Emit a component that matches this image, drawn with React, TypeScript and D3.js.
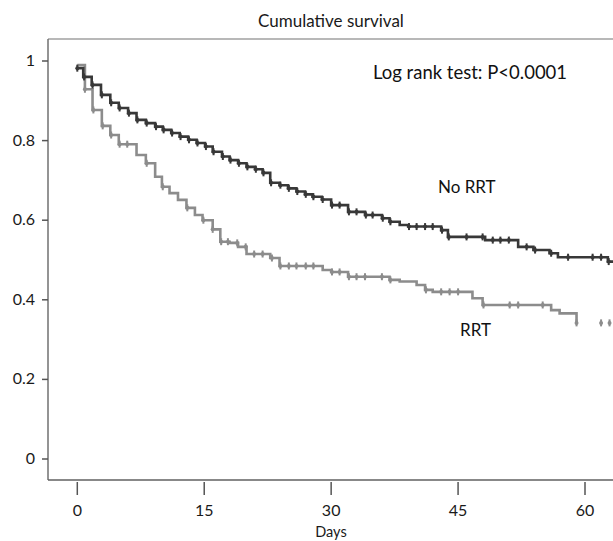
import * as d3 from "d3";
import { useEffect } from "react";

// step data: [day of drop, survival after drop]
const noRrtStart = 0.982;
const noRrtSteps: [number, number][] = [
  [0.7, 0.96], [1.7, 0.94], [2.8, 0.915], [3.9, 0.895], [4.9, 0.882], [6.0, 0.869],
  [7.0, 0.852], [8.1, 0.844], [9.2, 0.835], [10.1, 0.827], [11.1, 0.819], [12.1, 0.81],
  [13.1, 0.802], [14.1, 0.794], [15.1, 0.785], [16.0, 0.772], [17.1, 0.76], [18.0, 0.751],
  [19.0, 0.743], [20.0, 0.734], [21.0, 0.728], [21.9, 0.719], [22.8, 0.694], [23.9, 0.688],
  [24.9, 0.68], [25.9, 0.672], [26.9, 0.665], [27.8, 0.659], [28.9, 0.652], [30.0, 0.638],
  [32.0, 0.621], [34.0, 0.613], [36.0, 0.605], [36.9, 0.596], [38.1, 0.588], [39.1, 0.584],
  [43.0, 0.575], [43.8, 0.558], [48.2, 0.55], [52.1, 0.533], [53.9, 0.525], [55.8, 0.517],
  [56.8, 0.507], [62.7, 0.496],
];
const noRrtCensored = [
  0, 0.8, 1.8, 2.9, 4.0, 5.0, 6.1, 7.1, 8.2, 9.3, 10.2, 11.2, 12.2, 13.2, 14.2, 15.2,
  16.1, 17.2, 18.1, 19.1, 20.1, 21.1, 22.0, 22.9, 24.0, 25.0, 26.0, 27.0, 27.9, 29.0,
  30.1, 31.0, 32.1, 33.0, 34.1, 34.9, 36.1, 37.0, 39.2, 40.1, 41.1, 42.0, 43.1, 43.9,
  46.0, 47.9, 49.1, 50.0, 51.0, 53.1, 54.1, 56.0, 58.0, 60.9, 61.9, 62.8,
];
const noRrtEnd = 63.4;

const rrtStart = 0.99;
const rrtSteps: [number, number][] = [
  [0.9, 0.929], [1.8, 0.877], [2.9, 0.837], [3.9, 0.814], [4.9, 0.791], [7.0, 0.764],
  [8.1, 0.743], [9.2, 0.709], [10.0, 0.684], [10.9, 0.668], [11.9, 0.651], [12.9, 0.631],
  [13.9, 0.613], [14.8, 0.6], [16.0, 0.577], [16.9, 0.546], [18.0, 0.543], [19.0, 0.533],
  [20.0, 0.515], [22.8, 0.505], [23.9, 0.485], [29.0, 0.475], [30.0, 0.47], [32.0, 0.458],
  [36.9, 0.45], [38.1, 0.446], [40.1, 0.437], [41.1, 0.425], [42.0, 0.42], [46.7, 0.404],
  [47.9, 0.387], [56.0, 0.374], [57.0, 0.366], [59.0, 0.342],
];
const rrtCensored = [
  0.9, 1.9, 3.0, 4.0, 5.0, 5.9, 8.2, 10.1, 13.0, 14.9, 16.0, 17.0, 17.8, 18.9, 19.9,
  20.9, 21.9, 23.0, 24.0, 25.0, 25.9, 27.0, 27.9, 30.1, 31.0, 32.1, 33.0, 34.0, 36.0,
  37.0, 41.2, 43.0, 44.0, 45.0, 48.0, 51.1, 52.1, 55.0, 59.0, 61.9, 62.9,
];
const rrtEnd = 59.0;

const xTicks = [0, 15, 30, 45, 60];
const yTicks = [0, 0.2, 0.4, 0.6, 0.8, 1];

const W = 613;
const H = 541;
const font = "Lato, 'Open Sans', sans-serif";

const x = d3.scaleLinear().domain([0, 60]).range([77.3, 585]);
const y = d3.scaleLinear().domain([0, 1]).range([459, 61]);

const frame = { left: 48, top: 39, bottom: 480, right: 613 };

const line = d3
  .line<[number, number]>()
  .x((d) => x(d[0]))
  .y((d) => y(d[1]))
  .curve(d3.curveStepAfter);

const buildPoints = (start: number, steps: [number, number][], end: number) => {
  const pts: [number, number][] = [[0, start], ...steps];
  pts.push([end, steps[steps.length - 1][1]]);
  return pts;
};

const survivalAt = (start: number, steps: [number, number][], t: number) => {
  let s = start;
  for (const [d, v] of steps) {
    if (d <= t) s = v;
  }
  return s;
};

const Curve = ({ start, steps, end, censored, color }: {
  start: number; steps: [number, number][]; end: number; censored: number[]; color: string;
}) => (
  <g>
    <path d={line(buildPoints(start, steps, end)) || ""} fill="none" stroke={color} strokeWidth={2.6} />
    {censored.map((c, i) => {
      const cx = x(c);
      const cy = y(survivalAt(start, steps, c));
      return (
        <g key={i}>
          <line x1={cx} x2={cx} y1={cy - 3.5} y2={cy + 3.5} stroke={color} strokeWidth={2} />
          <circle cx={cx} cy={cy} r={2} fill={color} />
        </g>
      );
    })}
  </g>
);

export default function App() {
  useEffect(() => {
    document.body.style.margin = "0";
  }, []);

  return (
    <svg width={W} height={H} style={{ display: "block", background: "#fff" }}>
      <defs>
        <clipPath id="plot">
          <rect x={frame.left} y={frame.top} width={frame.right - frame.left} height={frame.bottom - frame.top} />
        </clipPath>
      </defs>

      <text x={331} y={27} textAnchor="middle" fontFamily={font} fontSize={17} fill="#1a1a1a">
        Cumulative survival
      </text>

      {/* frame */}
      <line x1={frame.left} x2={frame.right} y1={frame.top} y2={frame.top} stroke="#a0a0a0" strokeWidth={1.5} />
      <line x1={frame.left} x2={frame.left} y1={frame.top} y2={frame.bottom} stroke="#707070" strokeWidth={1.5} />
      <line x1={frame.left} x2={frame.right} y1={frame.bottom} y2={frame.bottom} stroke="#606060" strokeWidth={1.5} />

      {yTicks.map((t) => (
        <g key={t}>
          <line x1={42} x2={frame.left} y1={y(t)} y2={y(t)} stroke="#555" strokeWidth={1.5} />
          <text x={35} y={y(t) + 5} textAnchor="end" fontFamily={font} fontSize={16} fill="#1a1a1a">
            {t === 0 || t === 1 ? String(t) : t.toFixed(1)}
          </text>
        </g>
      ))}

      {xTicks.map((t) => (
        <g key={t}>
          <line x1={x(t)} x2={x(t)} y1={482} y2={495} stroke="#555" strokeWidth={1.5} />
          <text x={x(t)} y={516} textAnchor="middle" fontFamily={font} fontSize={16} fill="#1a1a1a">
            {t}
          </text>
        </g>
      ))}
      <text x={331} y={537} textAnchor="middle" fontFamily={font} fontSize={14.5} fill="#1a1a1a">
        Days
      </text>

      <g clipPath="url(#plot)">
        <Curve start={rrtStart} steps={rrtSteps} end={rrtEnd} censored={rrtCensored} color="#8c8c8c" />
        <Curve start={noRrtStart} steps={noRrtSteps} end={noRrtEnd} censored={noRrtCensored} color="#383838" />
      </g>

      <text x={373} y={79} fontFamily={font} fontSize={18.5} fill="#111">
        Log rank test: P&lt;0.0001
      </text>
      <text x={438} y={193} fontFamily={font} fontSize={17} fill="#111">
        No RRT
      </text>
      <text x={460} y={336} fontFamily={font} fontSize={17} fill="#111">
        RRT
      </text>
    </svg>
  );
}
